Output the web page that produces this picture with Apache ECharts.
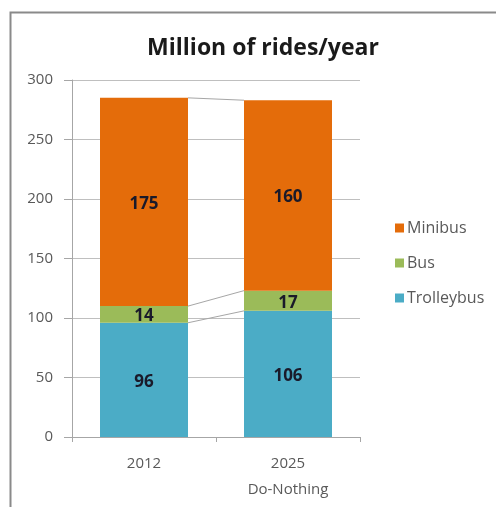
<!DOCTYPE html>
<html>
<head>
<meta charset="utf-8">
<script src="https://cdn.jsdelivr.net/npm/echarts@6/dist/echarts.min.js"></script>
<style>
  html, body { margin: 0; padding: 0; background: #fff; }
  #chart { width: 496px; height: 507px; }
</style>
</head>
<body>
<div id="chart"></div>
<script>
// Ridership by mode, million rides per year
const categories = ['2012', '2025\nDo-Nothing'];
const trolleybus = [96, 106];
const bus = [14, 17];
const minibus = [175, 160];
const yTicks = [0, 50, 100, 150, 200, 250, 300];

const colors = { minibus: '#E46C0A', bus: '#9BBB59', trolleybus: '#4BACC6' };
const textGrey = '#595959';
const fontFamily = '"Open Sans", "Liberation Sans", sans-serif';

// Cumulative stack tops, used for the connecting series lines
const stacks = [trolleybus, bus, minibus];
const tops = [];
let running = categories.map(() => 0);
stacks.forEach(s => {
  running = running.map((v, i) => v + s[i]);
  tops.push(running.slice());
});

const BAR_W = 88;

function barSeries(name, data, color) {
  return {
    name, type: 'bar', stack: 'rides', data,
    barWidth: BAR_W,
    itemStyle: { color },
    label: {
      show: true, position: 'inside', offset: [0, 2],
      color: '#1a1a2a', fontWeight: 'bold', fontSize: 17, fontFamily
    }
  };
}

const chart = echarts.init(document.getElementById('chart'), null, { renderer: 'canvas' });
chart.setOption({
  animation: false,
  backgroundColor: '#fff',
  title: {
    text: 'Million of rides/year',
    left: 258, top: 32, textAlign: 'center',
    textStyle: { fontSize: 23, fontWeight: 'bold', color: '#1a1a1a', fontFamily }
  },
  graphic: [{
    type: 'rect', left: 8, top: 10, z: -1,
    shape: { width: 700, height: 700 },
    style: { fill: 'none', stroke: '#8a8a8a', lineWidth: 2 }
  }],
  legend: {
    orient: 'vertical', left: 390, top: 215, itemGap: 19,
    itemWidth: 9, itemHeight: 9, icon: 'rect',
    data: ['Minibus', 'Bus', 'Trolleybus'],
    textStyle: { color: textGrey, fontSize: 16, fontFamily, padding: [0, 0, 0, -2] }
  },
  grid: { left: 72, top: 80, width: 288, height: 357, containLabel: false },
  xAxis: {
    type: 'category', data: categories,
    axisLine: { lineStyle: { color: '#a6a6a6' } },
    axisTick: { show: true, length: 5, lineStyle: { color: '#a6a6a6' } },
    axisLabel: { color: textGrey, fontSize: 15, fontFamily, margin: 14, lineHeight: 26 }
  },
  yAxis: {
    type: 'value', min: yTicks[0], max: yTicks[yTicks.length - 1], interval: 50,
    axisLine: { show: true, lineStyle: { color: '#a6a6a6' } },
    axisTick: { show: true, length: 8, lineStyle: { color: '#a6a6a6' } },
    splitLine: { lineStyle: { color: '#bfbfbf' } },
    axisLabel: { color: textGrey, fontSize: 15, fontFamily, margin: 19 }
  },
  series: [
    barSeries('Trolleybus', trolleybus, colors.trolleybus),
    barSeries('Bus', bus, colors.bus),
    barSeries('Minibus', minibus, colors.minibus),
    {
      // Series lines joining the top of each segment across the two bars
      type: 'custom',
      name: 'seriesLines',
      data: tops.map(t => t),
      renderItem: function (params, api) {
        const t = tops[params.dataIndex];
        const p0 = api.coord([0, t[0]]);
        const p1 = api.coord([1, t[1]]);
        return {
          type: 'line',
          shape: { x1: p0[0] + BAR_W / 2, y1: p0[1], x2: p1[0] - BAR_W / 2, y2: p1[1] },
          style: { stroke: '#a6a6a6', lineWidth: 1 }
        };
      },
      encode: { x: -1, y: -1 },
      silent: true,
      z: 1
    }
  ]
});
</script>
</body>
</html>
